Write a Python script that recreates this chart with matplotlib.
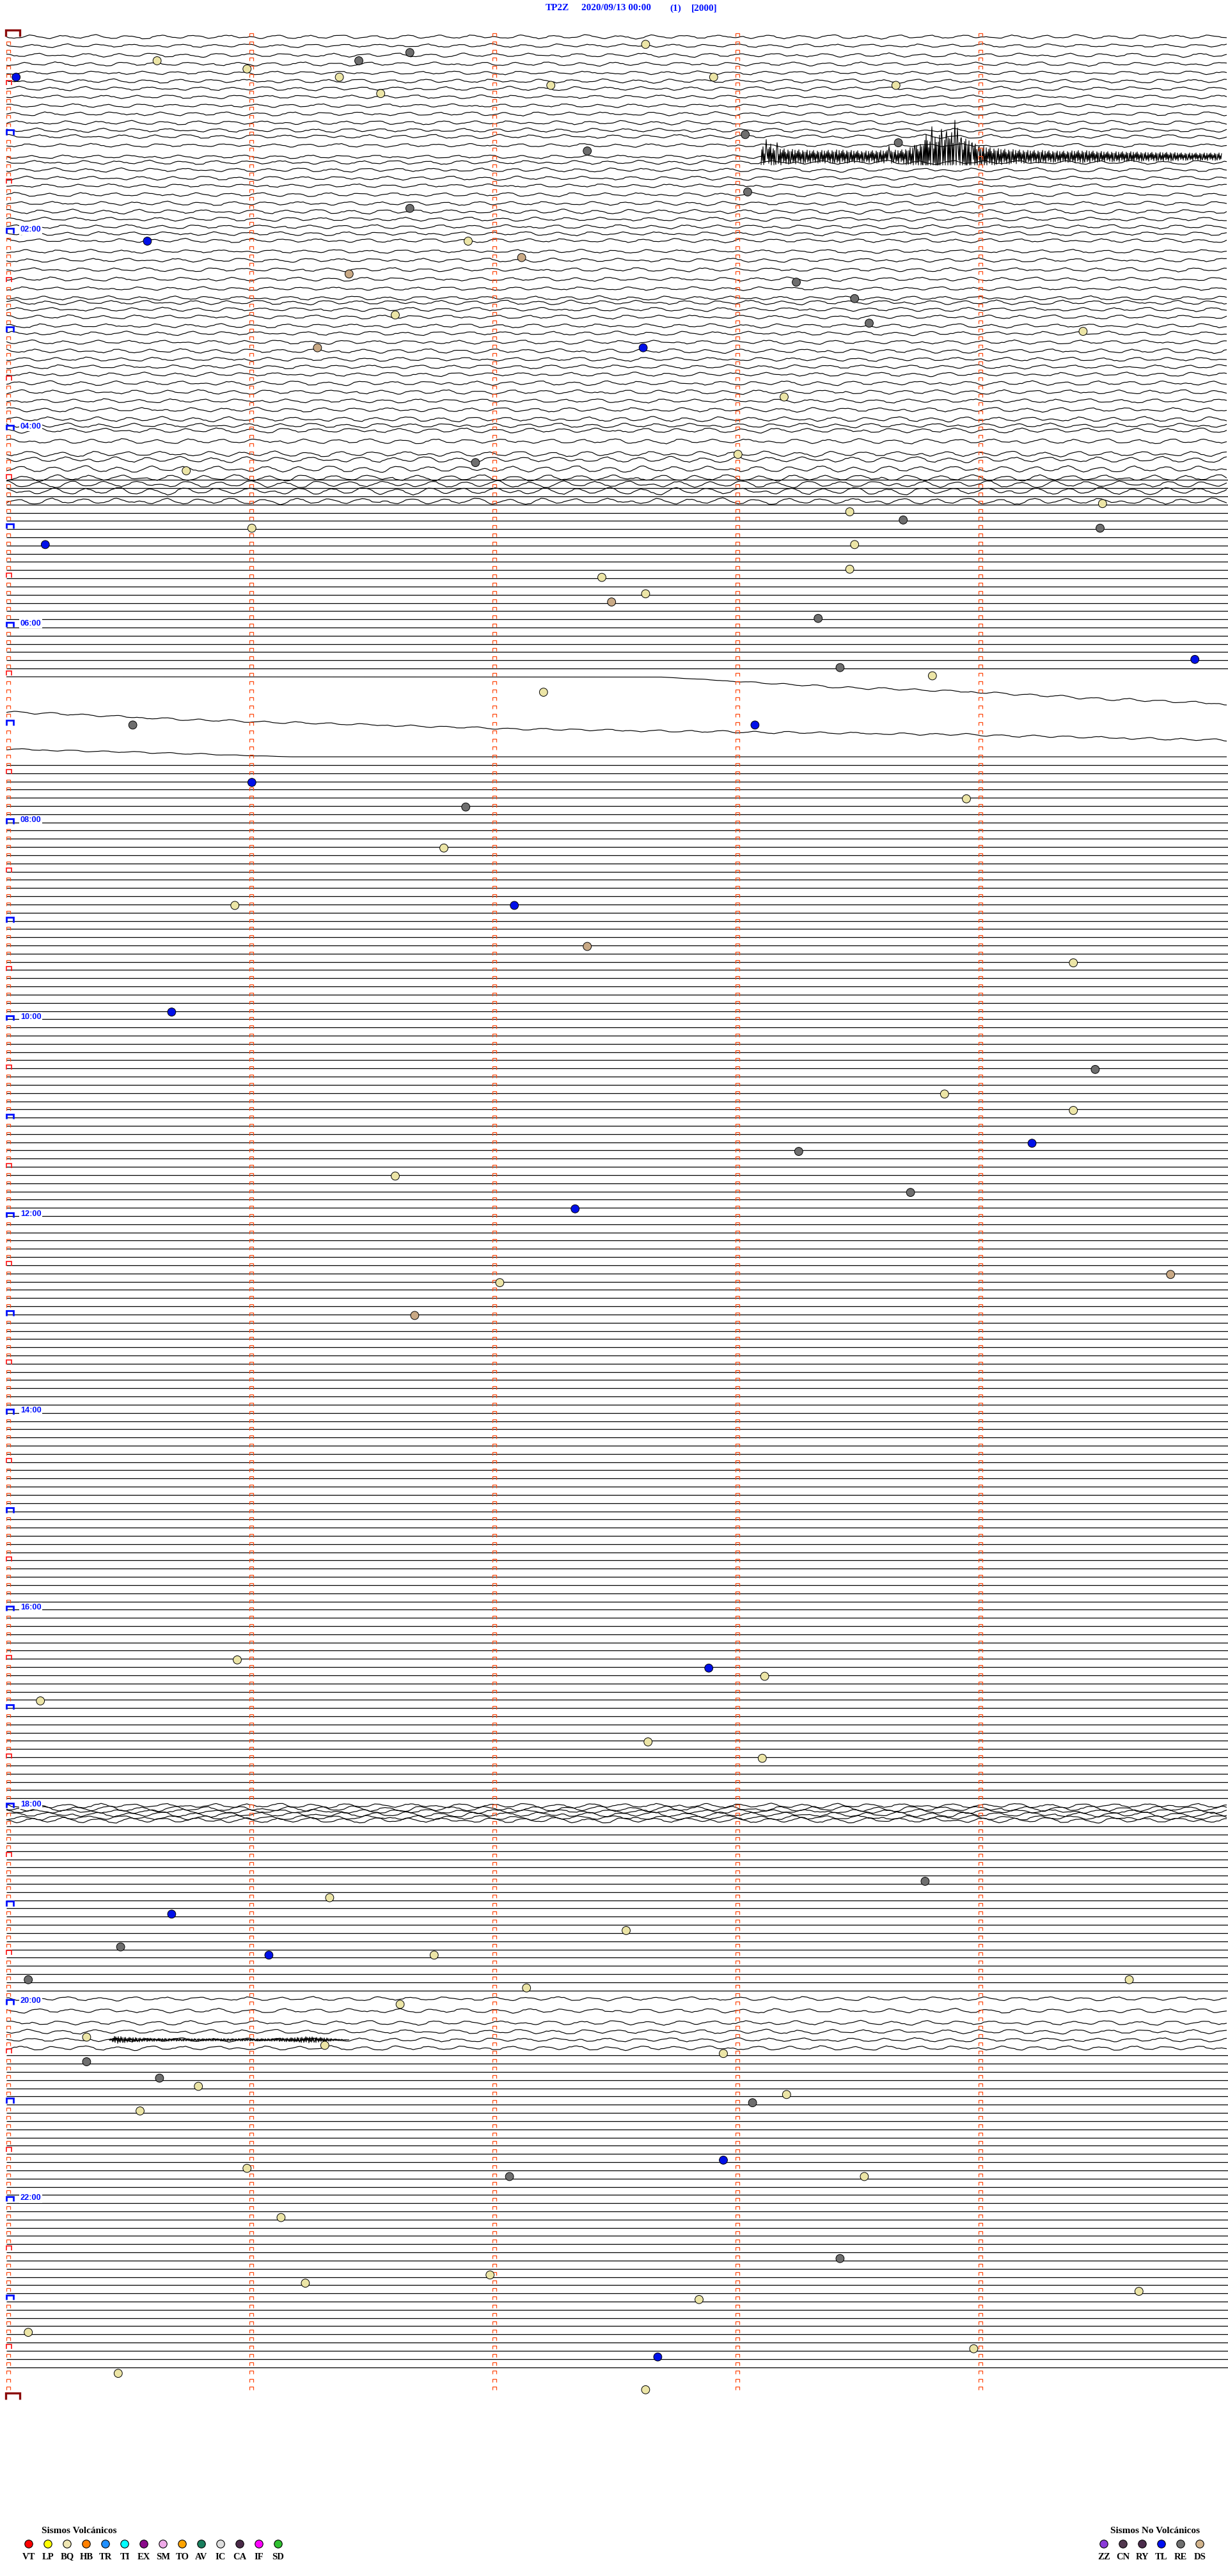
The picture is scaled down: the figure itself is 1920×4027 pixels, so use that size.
import numpy as np
import matplotlib
matplotlib.use("Agg")
import matplotlib.pyplot as plt
from matplotlib.collections import LineCollection

# ---------------- header ----------------
station = "TP2Z"
start_time = "2020/09/13 00:00"
channel_no = "(1)"
scale_txt = "[2000]"

# ---------------- legend ----------------
volc_codes = ["VT", "LP", "BQ", "HB", "TR", "TI", "EX", "SM", "TO", "AV", "IC", "CA", "IF", "SD"]
volc_colors = ["#ff0000", "#ffff00", "#efe6b2", "#ff8000", "#1e8fff", "#00ffff", "#8a0a8a",
               "#efaae8", "#ffa400", "#1a7f5e", "#dedede", "#4a2a48", "#ff00ff", "#30c030"]
novolc_codes = ["ZZ", "CN", "RY", "TL", "RE", "DS"]
novolc_colors = ["#8a3ad8", "#52384e", "#4c2c4c", "#0010f0", "#707070", "#d2b48c"]

# ---------------- events (minutes after 00:00, type) ----------------
ev_time = [15.62, 20.99, 16.45, 11.66, 7.63, 25.04, 26.37, 27.91, 32.24, 33.66, 36.54,
           63.04, 68.67, 72.39, 98.05, 106.66, 125.58, 126.90, 137.12, 146.41, 153.25,
           163.49, 171.60, 178.55, 184.43, 191.28, 192.62, 223.20, 258.01, 261.93, 265.74,
           289.51, 293.47, 298.69, 301.01, 304.50, 310.16, 313.49, 328.47, 332.45, 342.63,
           347.49, 358.34, 384.89, 388.43, 393.81, 402.21, 420.52, 423.08, 456.01, 468.95,
           471.89, 496.80, 530.94, 532.09, 557.39, 569.39, 595.68, 634.48, 648.86, 659.39,
           679.22, 683.26, 696.60, 708.72, 717.34, 759.79, 762.03, 781.68, 990.95, 997.89,
           1003.12, 1015.14, 1042.64, 1053.11, 1128.78, 1136.33, 1145.68, 1157.55, 1165.47,
           1171.08, 1171.76, 1185.09, 1189.62, 1192.14, 1201.62, 1220.33, 1232.95, 1226.31,
           1235.33, 1245.63, 1250.79, 1258.21, 1263.07, 1265.55, 1300.99, 1307.07, 1308.53,
           1297.95, 1331.13, 1358.43, 1366.99, 1371.23, 1379.66, 1382.85, 1400.09, 1413.98,
           1417.68, 1425.46, 1437.63]
ev_type = ["BQ", "BQ", "RE", "RE", "BQ", "TL", "BQ", "BQ", "BQ", "BQ", "BQ",
           "RE", "RE", "RE", "RE", "RE", "TL", "BQ", "DS", "DS", "RE",
           "RE", "BQ", "RE", "BQ", "DS", "TL", "BQ", "BQ", "RE", "BQ",
           "BQ", "BQ", "RE", "BQ", "RE", "TL", "BQ", "BQ", "BQ", "BQ",
           "DS", "RE", "TL", "RE", "BQ", "BQ", "RE", "TL", "TL", "BQ",
           "RE", "BQ", "BQ", "TL", "DS", "BQ", "TL", "RE", "BQ", "BQ",
           "TL", "RE", "BQ", "RE", "TL", "DS", "BQ", "DS", "BQ", "TL",
           "BQ", "BQ", "BQ", "BQ", "RE", "BQ", "TL", "BQ", "RE",
           "TL", "BQ", "RE", "BQ", "BQ", "BQ", "BQ", "BQ", "BQ",
           "RE", "RE", "BQ", "BQ", "RE", "BQ", "BQ", "RE", "BQ",
           "TL", "BQ", "RE", "BQ", "BQ", "BQ", "BQ", "BQ", "BQ",
           "TL", "BQ", "BQ"]
ev_color = {"BQ": "#ece5a6", "RE": "#6e6e6e", "TL": "#0010e8", "DS": "#c9a985"}

# ---------------- traces ----------------
# one stretch of microseism wiggle (px, + = down), sampled every 4 px along a row
micro = [0.0, 1.2, 2.2, 2.8, 2.6, 1.8, 0.6, -0.8, -2.0, -2.8, -2.9, -2.2,
         -1.0, 0.4, 1.6, 2.6, 3.2, 3.0, 2.0, 0.6, -0.8, -1.8, -2.4, -2.2,
         -1.4, -0.2, 1.0, 1.8, 2.2, 2.0, 1.2, 0.0, -1.4, -2.6, -3.4, -3.6,
         -3.0, -1.8, -0.2, 1.4, 2.6, 3.2, 3.0, 2.2, 1.0, -0.2, -1.2, -1.8,
         -1.8, -1.2, -0.2, 1.0, 2.2, 3.2, 3.8, 3.6, 2.6, 1.0, -0.8, -2.2,
         -3.0, -3.2, -2.6, -1.4, 0.0, 1.2, 2.0, 2.2, 1.8, 1.0, -0.2, -1.4,
         -2.2, -2.6, -2.4, -1.6, -0.4, 0.8, 1.8, 2.4, 2.4, 1.8, 0.8, -0.4,
         -1.6, -2.6, -3.0, -2.8, -2.0, -0.8, 0.4, 1.2, 1.4, 1.0, 0.4, -0.2]
jitter = [0, 1, 0, 0, -1, 0, 1, 1, 0, -1, 0, 0, 1, 0, -1, -1, 0, 1, 0, 0, 0, -1, 1, 0, 0, 1, -1, 0, 0, 1, 0]

# rows 0-53 (00:00-04:25): gain and DC offset in px
top_gain = [0.8, 0.7, 0.8, 0.8, 0.7, 0.8, 0.8, 0.7, 0.7, 0.8, 0.8, 0.8,
            0.8, 0.7, 0.7, 0.8, 0.8, 0.8, 0.7, 0.8, 0.8, 0.9, 0.8, 0.8,
            0.8, 0.8, 0.7, 0.8, 0.8, 0.8, 0.7, 0.8, 0.9, 0.8, 0.8, 0.8,
            0.8, 0.8, 0.9, 0.8, 0.8, 0.8, 0.9, 0.9, 0.8, 0.9, 1.0, 0.9,
            1.0, 1.0, 1.1, 1.2, 1.3, 1.3]
top_offset = [-2, -1, 1, 2, 3, 3, 2, 2, 3, 3, 4, 3,
              0, 1, 6, 2, 1, 1, 0, 1, 2, 2, 1, 0,
              -2, -4, 0, 1, 3, 5, 7, 9, 3, 1, 0, 1,
              0, 1, 2, 2, 1, 0, 1, 2, 3, 4, 6, 3,
              -2, 2, 9, 5, 7, 8]
# overlapping wiggles where the signal dies (04:30-04:40)
extra_row = [54, 55, 56]
extra_off = [5, 3, 6]
extra_gain = [1.4, 1.5, 1.3]
# 18:00 noisy band
band_row = [216, 216, 216, 217, 217, 217]
band_off = [-6, -1, 3, -5, 0, 4]
band_gain = [0.9, 1.1, 0.8, 1.0, 0.9, 1.1]
# 19:55-20:20 wiggles
late_row = [239, 240, 241, 242, 243, 244]
late_off = [1, 7, 13, 14, 14, 14]
late_gain = [0.8, 0.9, 0.9, 0.9, 0.8, 0.9]
# flat (dead channel) runs: first row, last row, offset px
flat_runs = [(54, 77, -1.5), (81, 207, 98.0), (218, 238, 1.0), (245, 283, 13.0)]
# drifting rows 06:30-06:40: knots along row (px) and offsets (px)
drift_row = [78, 79, 80]
drift_x = [[0, 1025, 1284, 1519, 1696, 1910],
           [0, 290, 790, 990, 1490, 1910],
           [0, 290, 340, 445, 1910]]
drift_off = [[-1.5, -1.0, 14.0, 22.5, 32.0, 41.0],
             [40.0, 53.0, 67.0, 70.0, 76.0, 85.0],
             [86.0, 93.0, 95.0, 98.0, 98.0]]
drift_gain = [[0.0, 0.0, 0.5, 0.5, 0.6, 0.6],
              [0.5, 0.5, 0.4, 0.5, 0.5, 0.5],
              [0.4, 0.3, 0.2, 0.0, 0.0]]

# tremor at 01:10 (row 14): envelope every 20 px from 1180 px
tremor_row = 14
tremor_env = [16, 14, 12, 11, 10, 10, 11, 10, 9, 10, 10, 11, 16, 28, 34, 30, 26, 18, 14,
              12, 11, 10, 10, 9, 9, 10, 9, 8, 8, 8, 7, 7, 7, 6, 6, 6, 6]
tremor_start = 1180
spike_x = [1188, 1195, 1205, 1380, 1420, 1438, 1447, 1452, 1462, 1470, 1473, 1478, 1483,
           1487, 1493, 1500, 1505, 1510, 1520]
spike_h = [-27, -20, -22, -17, -18, -35, -47, -30, -43, -40, -30, -38, -57,
           -45, -30, -28, -25, -22, -15]
carrier = [0.9, -0.7, 0.4, -1.0, 0.8, -0.3, 0.6, -0.9, 1.0, -0.5, 0.2, -0.8, 0.7, -1.0,
           0.5, -0.6, 0.9, -0.4, 0.3, -0.9, 1.0, -0.7, 0.5]
# small burst at 20:15 (row 243)
burst_row = 243
burst_x = [160, 170, 190, 230, 290, 350, 410, 450, 470, 490, 510, 536]
burst_amp = [0, 6, 4, 2.5, 2, 2, 2, 3.5, 5, 4, 2, 0]

# ---------------- geometry ----------------
W, H = 1920, 4027
X0, Y0 = 10.0, 59.5
MIN_PX, ROW_PX = 380.0, 12.82
N_ROWS = 288

fig = plt.figure(figsize=(W / 100, H / 100), dpi=100)
ax = fig.add_axes([X0 / W, 1 - (Y0 + N_ROWS * ROW_PX) / H, 5 * MIN_PX / W, N_ROWS * ROW_PX / H])
ax.set_xlim(0, 5)
ax.set_ylim(N_ROWS, 0)
ax.axis("off")

xs4 = np.arange(0, 1912, 4.0)


def wiggle(seed, n, gain):
    m = np.resize(np.roll(micro, -((seed * 37) % len(micro))), n)
    j = np.resize(np.roll(jitter, -((seed * 11) % len(jitter))), n)
    return gain * m + 0.6 * j


def seg(xpx, row, ypx):
    return np.column_stack([np.asarray(xpx) / MIN_PX, row + np.asarray(ypx) / ROW_PX])


wig, flat = [], []
for r, (g, off) in enumerate(zip(top_gain, top_offset)):
    y = off + wiggle(r, len(xs4), g)
    if r == tremor_row:
        keep = xs4 <= tremor_start
        wig.append(seg(xs4[keep], r, y[keep]))
    else:
        wig.append(seg(xs4, r, y))
for k, (r, off, g) in enumerate(zip(extra_row, extra_off, extra_gain)):
    wig.append(seg(xs4, r, off + wiggle(r * 3 + k + 5, len(xs4), g)))
for k, (r, off, g) in enumerate(zip(band_row, band_off, band_gain)):
    wig.append(seg(xs4, r, off + wiggle(r + 7 * k, len(xs4), g)))
for r, off, g in zip(late_row, late_off, late_gain):
    wig.append(seg(xs4, r, off + wiggle(r, len(xs4), g)))
for r0, r1, off in flat_runs:
    for r in range(r0, r1 + 1):
        flat.append(seg([0, 1910], r, [off, off]))
for r, kx, ko, kg in zip(drift_row, drift_x, drift_off, drift_gain):
    base = np.interp(xs4, kx, ko)
    gain = np.interp(xs4, kx, kg)
    wig.append(seg(xs4, r, base + gain * wiggle(r, len(xs4), 1.0)))

# tremor
xt = np.arange(tremor_start, tremor_start + 20 * (len(tremor_env) - 1) + 1, 1.0)
env = np.interp(xt, tremor_start + 20 * np.arange(len(tremor_env)), tremor_env)
t0 = top_offset[tremor_row]
yt = t0 + env * np.resize(carrier, len(xt))
for sx, sh in zip(spike_x, spike_h):
    yt[int(sx - tremor_start)] = t0 + sh
yt = np.minimum(yt, t0 + 13)
trem = [seg(xt, tremor_row, yt)]

# burst at 20:15
xb = np.arange(burst_x[0], burst_x[-1] + 1, 1.0)
yb = late_off[late_row.index(burst_row)] + np.interp(xb, burst_x, burst_amp) * np.resize(carrier[::-1], len(xb))
trem.append(seg(xb, burst_row, yb))

ax.add_collection(LineCollection(wig, colors="black", linewidths=0.85, clip_on=False, zorder=1))
ax.add_collection(LineCollection(trem, colors="black", linewidths=0.8, clip_on=False, zorder=1))
ax.add_collection(LineCollection(flat, colors="black", linewidths=0.9, clip_on=False, zorder=1))

# ---------------- brackets ----------------
def bracket(col, row, dx0, dx1, dy0, dy1):
    x0, x1 = col + dx0 / MIN_PX, col + dx1 / MIN_PX
    ya, yb_ = row + dy0 / ROW_PX, row + dy1 / ROW_PX
    return [(x0, yb_), (x0, ya), (x1, ya), (x1, yb_)]


orange, red, blue, dred = [], [], [], []
for r in range(N_ROWS):
    for c in (1, 2, 3, 4):
        orange.append(bracket(c, r, 0, 6, -7.5, -2.5))
    if r == 0:
        dred.append(bracket(0, r, -1, 21, -13, -2.5))
    elif r % 12 == 0:
        blue.append(bracket(0, r, -0.5, 11, -10, -2.5))
    elif r % 6 == 0:
        red.append(bracket(0, r, 0, 8, -10, -3))
    else:
        orange.append(bracket(0, r, 0, 6, -7.5, -2.5))
dred.append(bracket(0, N_ROWS, -1, 21, -11, -1))

for lst, colr, lw in [(orange, "#ff4a10", 0.9), (red, "#ff1010", 1.2),
                      (blue, "#0010ff", 2.0), (dred, "#8b0a0a", 2.4)]:
    ax.add_collection(LineCollection(lst, colors=colr, linewidths=lw, clip_on=False, zorder=4,
                                     capstyle="butt", joinstyle="miter"))

# hour labels
for h in range(2, 24, 2):
    ax.text(22 / MIN_PX, h * 12 - 8 / ROW_PX, "%02d:00" % h, color="#0010ff", fontsize=9.2,
            family="Liberation Sans", weight="bold", ha="left", va="center", zorder=3,
            bbox=dict(boxstyle="square,pad=0.12", fc="white", ec="none"), clip_on=False)

# events
t = np.array(ev_time)
rows = np.floor(t / 5.0)
ax.scatter(t - 5 * rows, rows - 3 / ROW_PX, s=85, c=[ev_color[k] for k in ev_type],
           edgecolors="black", linewidths=0.7, zorder=5, clip_on=False)

# ---------------- title and legend (page pixels) ----------------
lax = fig.add_axes([0, 0, 1, 1])
lax.set_xlim(0, W)
lax.set_ylim(H, 0)
lax.axis("off")
lax.patch.set_alpha(0)

tkw = dict(color="#0010ff", fontsize=11, family="Liberation Serif", weight="bold", va="center")
for txt, xp in zip([station, start_time, channel_no, scale_txt], [853, 909, 1047, 1081]):
    lax.text(xp, 13, txt, ha="left", **tkw)

lkw = dict(color="black", family="Liberation Serif", weight="bold", ha="center", va="center")
lax.text(124, 3956, "Sismos Volcánicos", fontsize=11, **lkw)
vx = 45 + 30 * np.arange(len(volc_codes))
lax.scatter(vx, np.full(len(vx), 3977), s=80, c=volc_colors, edgecolors="black", linewidths=0.8)
for xp, code in zip(vx, volc_codes):
    lax.text(xp, 3997, code, fontsize=10.5, **lkw)

lax.text(1806, 3956, "Sismos No Volcánicos", fontsize=11, **lkw)
nx = 1726 + 30 * np.arange(len(novolc_codes))
lax.scatter(nx, np.full(len(nx), 3977), s=80, c=novolc_colors, edgecolors="black", linewidths=0.8)
for xp, code in zip(nx, novolc_codes):
    lax.text(xp, 3997, code, fontsize=10.5, **lkw)

fig.savefig("out.png", dpi=100, facecolor="white")
